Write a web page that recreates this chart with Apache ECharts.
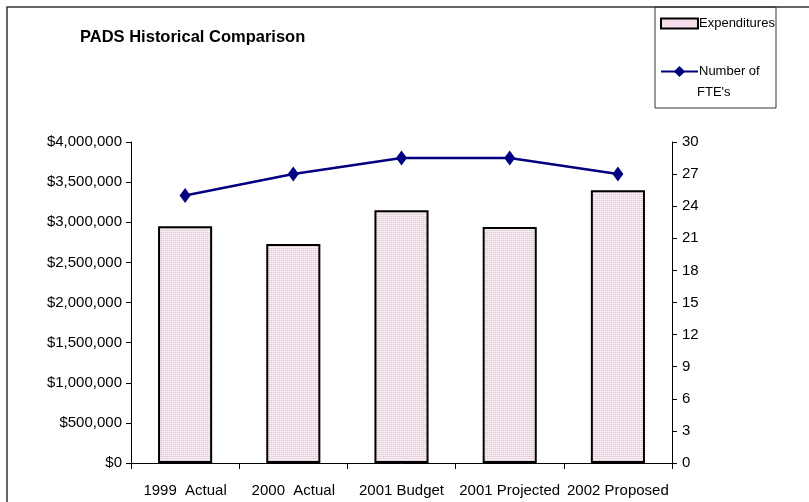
<!DOCTYPE html>
<html>
<head>
<meta charset="utf-8">
<script src="https://cdn.jsdelivr.net/npm/echarts@6/dist/echarts.min.js"></script>
<style>
html,body{margin:0;padding:0;background:#fff;}
#chart{width:809px;height:502px;}
</style>
</head>
<body>
<div id="chart"></div>
<script>
const categories = ['1999  Actual', '2000  Actual', '2001 Budget', '2001 Projected', '2002 Proposed'];
const expenditures = [2950000, 2730000, 3150000, 2940000, 3400000];
const ftes = [25, 27, 28.5, 28.5, 27];
const titleText = 'PADS Historical Comparison';
const legendNames = ['Expenditures', 'Number of'];

const FONT = '"Liberation Sans", Arial, sans-serif';

function makePattern() {
  const c = document.createElement('canvas');
  c.width = 2; c.height = 2;
  const ctx = c.getContext('2d');
  ctx.fillStyle = '#ecd0e0'; ctx.fillRect(0, 0, 2, 1);
  ctx.fillStyle = '#ffffff'; ctx.fillRect(0, 1, 1, 1);
  ctx.fillStyle = '#f3dfea'; ctx.fillRect(1, 1, 1, 1);
  return c;
}
const pattern = { image: makePattern(), repeat: 'repeat' };

const chart = echarts.init(document.getElementById('chart'), null, { renderer: 'canvas' });

function money(v) {
  return '$' + v.toString().replace(/\B(?=(\d{3})+(?!\d))/g, ',');
}

const option = {
  animation: false,
  backgroundColor: '#ffffff',
  title: {
    text: titleText,
    left: 75, top: 24,
    textStyle: { fontFamily: FONT, fontSize: 16.5, fontWeight: 'bold', color: '#000' }
  },
  legend: [{
    data: [{ name: legendNames[0], icon: 'rect' }],
    orient: 'vertical',
    left: 660, top: 17,
    itemWidth: 37, itemHeight: 10, itemGap: 0,
    padding: 0,
    textStyle: { fontFamily: FONT, fontSize: 13, color: '#000', padding: [0, 0, 0, -4] },
    selectedMode: false
  }, {
    data: [{ name: legendNames[1] }],
    orient: 'vertical',
    left: 660, top: 65,
    itemWidth: 37, itemHeight: 14, itemGap: 0,
    padding: 0,
    textStyle: { fontFamily: FONT, fontSize: 13, color: '#000', padding: [0, 0, 0, -4] },
    selectedMode: false
  }],
  grid: { left: 131, right: 137, top: 142, bottom: 39, containLabel: false },
  xAxis: {
    type: 'category',
    data: categories,
    boundaryGap: true,
    axisLine: { lineStyle: { color: '#000', width: 1 } },
    axisTick: { show: true, length: 6, lineStyle: { color: '#000' } },
    axisLabel: { fontFamily: FONT, fontSize: 15, color: '#000', margin: 20, interval: 0 }
  },
  yAxis: [{
    type: 'value',
    min: 0, max: 4000000, interval: 500000,
    axisLine: { show: true, lineStyle: { color: '#000' } },
    axisTick: { show: true, length: 5, lineStyle: { color: '#000' } },
    splitLine: { show: false },
    axisLabel: { fontFamily: FONT, fontSize: 15, color: '#000', margin: 9, formatter: money }
  }, {
    type: 'value',
    min: 0, max: 30, interval: 3,
    position: 'right',
    axisLine: { show: true, lineStyle: { color: '#000' } },
    axisTick: { show: true, length: 5, lineStyle: { color: '#000' } },
    splitLine: { show: false },
    axisLabel: { fontFamily: FONT, fontSize: 15, color: '#000', margin: 10 }
  }],
  series: [{
    name: legendNames[0],
    type: 'bar',
    data: expenditures,
    yAxisIndex: 0,
    barWidth: '50%',
    itemStyle: { color: pattern, borderColor: '#000', borderWidth: 2 }
  }, {
    name: legendNames[1],
    type: 'line',
    data: ftes,
    yAxisIndex: 1,
    symbol: 'diamond',
    symbolSize: [11, 15],
    lineStyle: { color: '#000080', width: 2.5 },
    itemStyle: { color: '#000080' }
  }],
  graphic: [{
    type: 'rect',
    shape: { x: 7, y: 7, width: 900, height: 600 },
    style: { fill: 'none', stroke: '#333', lineWidth: 1.5 },
    silent: true, z: -1
  }, {
    type: 'rect',
    shape: { x: 655, y: 7, width: 121, height: 101 },
    style: { fill: 'none', stroke: '#333', lineWidth: 1 },
    silent: true, z: -1
  }, {
    type: 'text',
    left: 697, top: 86,
    style: { text: "FTE's", font: '13px ' + FONT, fill: '#000' }
  }]
};
chart.setOption(option);
</script>
</body>
</html>
